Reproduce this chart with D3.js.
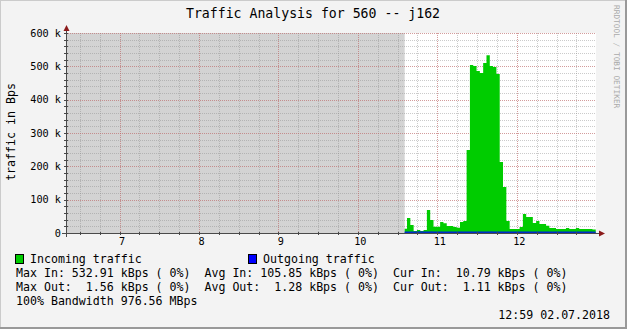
<!DOCTYPE html>
<html>
<head>
<meta charset="utf-8">
<script src="https://cdn.jsdelivr.net/npm/d3@7"></script>
<style>
body{margin:0;background:#fff}
text{font-family:"DejaVu Sans Mono",monospace;white-space:pre}
</style>
</head>
<body>
<div id="chart"></div>
<script>
// rrd samples, one every 150 s from sampleStart (kBps)
var day = "2018-07-02";
var graphStart = "06:19:36", graphEnd = "12:59:48";
var unknownEnd = "10:35:20";
var sampleStart = "10:34:36", stepSec = 150;
var incoming = [13,45,24,6,9,6,9,69,39,19,19,33,29,21,21,18,16,33,36,
  249,504,501,486,480,510,532.91,501,498,477,213,138,
  36,12,12,12,18,57,48,48,30,36,27,27,22,15,15,12,12,12,15,12,12,15,12,12,12,12,10.79];
var outgoing = [1.21,1.24,1.27,1.32,1.50,1.56,1.30,1.28,1.52,1.26,1.25,1.27,1.24,1.26,1.28,1.25,1.23,1.27,1.29,
  1.30,1.28,1.26,1.27,1.29,1.31,1.33,1.50,1.28,1.27,1.26,1.25,
  1.24,1.22,1.23,1.25,1.27,1.29,1.28,1.26,1.25,1.27,1.26,1.24,1.23,1.25,1.26,1.24,1.25,1.27,1.26,1.24,1.23,1.25,1.26,1.24,1.22,1.20,1.11];
var yTicks = [0,100000,200000,300000,400000,500000,600000];
var yTickLabels = ["0","100 k","200 k","300 k","400 k","500 k","600 k"];
var legendItems = [{name:"Incoming traffic",color:"#00cc00"},{name:"Outgoing traffic",color:"#0000ff"}];
var statLines = [
  "Max In: 532.91 kBps ( 0%)  Avg In: 105.85 kBps ( 0%)  Cur In:  10.79 kBps ( 0%)",
  "Max Out:  1.56 kBps ( 0%)  Avg Out:  1.28 kBps ( 0%)  Cur Out:  1.11 kBps ( 0%)",
  "100% Bandwidth 976.56 MBps"];
var title = "Traffic Analysis for 560 -- j162";
var stamp = "12:59 02.07.2018";

var W = 627, H = 329;
var pL = 66, pR = 596, pT = 33, pB = 233;
var parse = d3.timeParse("%Y-%m-%d %H:%M:%S");
var t = function(s){ return parse(day + " " + s); };

var x = d3.scaleTime().domain([t(graphStart), t(graphEnd)]).range([pL, pR]);
var y = d3.scaleLinear().domain([0, 600000]).range([pB, pT]);

var t0 = t(sampleStart);
function series(vals){
  var pts = vals.map(function(v, i){ return {t: new Date(+t0 + i*stepSec*1000), v: v*1000}; });
  pts.push({t: new Date(+t0 + vals.length*stepSec*1000), v: vals[vals.length-1]*1000});
  return pts;
}
var inData = series(incoming), outData = series(outgoing);

var svg = d3.select("#chart").append("svg").attr("width", W).attr("height", H);

// background + 3d border
svg.append("rect").attr("width", W).attr("height", H).attr("fill", "#f3f3f3");
svg.append("path").attr("d", "M0,"+H+"V0H"+W).attr("fill","none").attr("stroke","#cbcbcb").attr("stroke-width",2);
svg.append("path").attr("d", "M0,"+(H-1)+"H"+(W-1)+"V0").attr("fill","none").attr("stroke","#999").attr("stroke-width",2);

// canvas
svg.append("rect").attr("x", pL).attr("y", pT).attr("width", pR-pL).attr("height", pB-pT).attr("fill", "#fff");
// unknown data
svg.append("rect").attr("x", pL).attr("y", pT)
  .attr("width", x(t(unknownEnd)) - pL).attr("height", pB-pT).attr("fill", "#d3d3d3");

// grid
var g = svg.append("g");
var minorX = x.ticks(d3.timeMinute.every(15)), majorX = x.ticks(d3.timeHour.every(1));
var px = function(v){ return Math.round(v) + 0.5; };
g.selectAll(".vmin").data(minorX).enter().append("line")
  .attr("x1", function(d){ return px(x(d)); }).attr("x2", function(d){ return px(x(d)); })
  .attr("y1", pT).attr("y2", pB)
  .attr("stroke", "#8c8c8c").attr("stroke-opacity", 0.45).attr("stroke-dasharray", "1,1");
var minorY = d3.range(0, 600001, 20000);
g.selectAll(".hmin").data(minorY).enter().append("line")
  .attr("x1", pL).attr("x2", pR)
  .attr("y1", function(d){ return px(y(d)); }).attr("y2", function(d){ return px(y(d)); })
  .attr("stroke", "#8c8c8c").attr("stroke-opacity", 0.45).attr("stroke-dasharray", "1,1");
g.selectAll(".vmaj").data(majorX).enter().append("line")
  .attr("x1", function(d){ return px(x(d)); }).attr("x2", function(d){ return px(x(d)); })
  .attr("y1", pT).attr("y2", pB)
  .attr("stroke", "#e05050").attr("stroke-opacity", 0.38).attr("stroke-dasharray", "1,1");
g.selectAll(".hmaj").data(yTicks).enter().append("line")
  .attr("x1", pL).attr("x2", pR)
  .attr("y1", function(d){ return px(y(d)); }).attr("y2", function(d){ return px(y(d)); })
  .attr("stroke", "#e05050").attr("stroke-opacity", 0.38).attr("stroke-dasharray", "1,1");

// data
svg.append("clipPath").attr("id", "known").append("rect")
  .attr("x", x(t(unknownEnd))).attr("y", pT).attr("width", pR - x(t(unknownEnd))).attr("height", pB-pT);
var area = d3.area().curve(d3.curveStepAfter)
  .x(function(d){ return x(d.t); }).y0(y(0)).y1(function(d){ return y(d.v); });
var dg = svg.append("g").attr("clip-path", "url(#known)");
dg.append("path").datum(inData).attr("d", area).attr("fill", "#00cc00");
dg.append("path").datum(outData).attr("d", area).attr("fill", "#0000ff");
dg.append("path").datum(outData)
  .attr("d", d3.line().curve(d3.curveStepAfter).x(function(d){ return x(d.t); }).y(function(d){ return y(d.v) - 0.5; }))
  .attr("fill", "none").attr("stroke", "#0000ff").attr("stroke-width", 1);

// axes
var axisCol = "#4a4a4a", arrowCol = "#8b1a1a";
svg.append("line").attr("x1", pL+0.5).attr("x2", pL+0.5).attr("y1", pB+4).attr("y2", pT-4)
  .attr("stroke", axisCol);
svg.append("line").attr("x1", pL-4).attr("x2", pR+4).attr("y1", pB+0.5).attr("y2", pB+0.5)
  .attr("stroke", axisCol);
svg.append("path").attr("d", "M"+(pL-2.5)+","+(pT-2)+"L"+(pL+3.5)+","+(pT-2)+"L"+(pL+0.5)+","+(pT-8)+"Z").attr("fill", arrowCol);
svg.append("path").attr("d", "M"+(pR+3)+","+(pB-2.5)+"L"+(pR+3)+","+(pB+3.5)+"L"+(pR+9)+","+(pB+0.5)+"Z").attr("fill", arrowCol);
// axis ticks
svg.selectAll(".xt").data(minorX).enter().append("line")
  .attr("x1", function(d){ return px(x(d)); }).attr("x2", function(d){ return px(x(d)); })
  .attr("y1", pB-1).attr("y2", pB+2).attr("stroke", axisCol);
svg.selectAll(".yt").data(minorY).enter().append("line")
  .attr("x1", pL-2).attr("x2", pL+2)
  .attr("y1", function(d){ return px(y(d)); }).attr("y2", function(d){ return px(y(d)); })
  .attr("stroke", axisCol);

// tick labels
svg.selectAll(".yl").data(yTicks).enter().append("text")
  .attr("x", 61).attr("y", function(d){ return y(d) + 3.5; })
  .attr("text-anchor", "end").attr("font-size", "10.2px").attr("fill", "#000")
  .text(function(d, i){ return yTickLabels[i]; });
svg.selectAll(".xl").data(majorX).enter().append("text")
  .attr("x", function(d){ return x(d) + 2.5; }).attr("y", 245)
  .attr("text-anchor", "middle").attr("font-size", "10.2px").attr("fill", "#000")
  .text(d3.timeFormat("%-H"));

// titles
svg.append("text").attr("x", 313).attr("y", 18).attr("text-anchor", "middle")
  .attr("font-size", "13.2px").text(title);
svg.append("text").attr("transform", "translate(15,132) rotate(-90)").attr("text-anchor", "middle")
  .attr("font-size", "11.6px").text("traffic in Bps");
svg.append("text").attr("transform", "translate(614,5) rotate(90)")
  .attr("font-size", "7.8px").attr("fill", "#aaa").text("RRDTOOL / TOBI OETIKER");

// legend
var lg = svg.selectAll(".lg").data(legendItems).enter().append("g")
  .attr("transform", function(d, i){ return "translate(" + (15 + i*233) + ",0)"; });
lg.append("rect").attr("x", 0.5).attr("y", 254.5).attr("width", 8).attr("height", 9)
  .attr("fill", function(d){ return d.color; }).attr("stroke", "#000");
lg.append("text").attr("x", 15).attr("y", 263).attr("font-size", "11.6px").text(function(d){ return d.name; });
svg.selectAll(".st").data(statLines).enter().append("text")
  .attr("x", 16).attr("y", function(d, i){ return 277 + i*14; })
  .attr("font-size", "11.6px").text(function(d){ return d; });
svg.append("text").attr("x", 610).attr("y", 319).attr("text-anchor", "end")
  .attr("font-size", "11.6px").text(stamp);
</script>
</body>
</html>
